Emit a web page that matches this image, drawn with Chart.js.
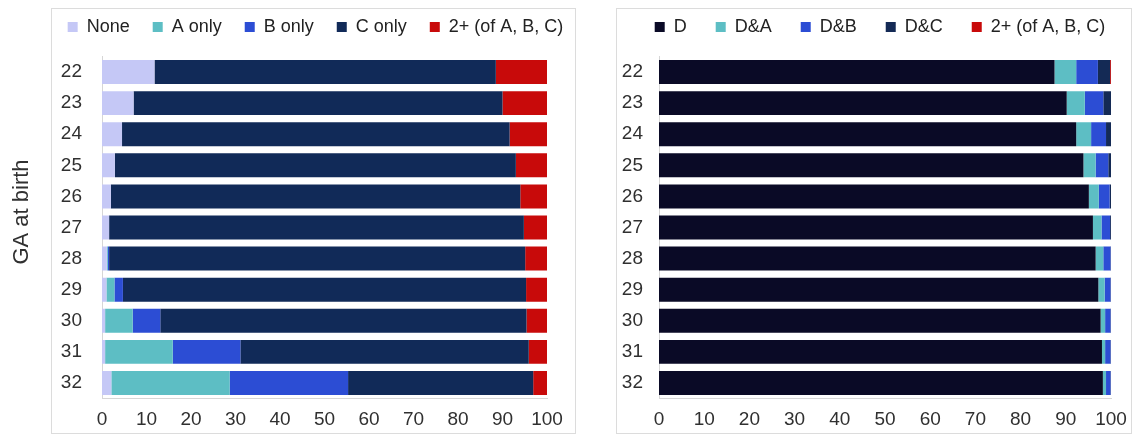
<!DOCTYPE html>
<html>
<head>
<meta charset="utf-8">
<script src="https://cdn.jsdelivr.net/npm/chart.js@4"></script>
<style>
  html, body { margin: 0; padding: 0; background: #fff; }
  #wrap { position: relative; width: 1137px; height: 436px; overflow: hidden; }
  .panel { position: absolute; border: 1px solid #dcdcdc; box-sizing: border-box; }
  canvas { position: absolute; top: 0; }
</style>
</head>
<body>
<div id="wrap">
  <div class="panel" style="left:51px;top:8px;width:525px;height:426px"></div>
  <div class="panel" style="left:616px;top:8px;width:516px;height:426px"></div>
  <canvas id="leftChart" width="580" height="436" style="left:0;width:580px;height:436px"></canvas>
  <canvas id="rightChart" width="557" height="436" style="left:580px;width:557px;height:436px"></canvas>
</div>
<script>
// Gestational age at birth (weeks)
const gaWeeks = ['22', '23', '24', '25', '26', '27', '28', '29', '30', '31', '32'];
const axisTitle = 'GA at birth';
const xTicks = [0, 10, 20, 30, 40, 50, 60, 70, 80, 90, 100];

// Left panel: percentage by exposure group
const leftLabels = ['None', 'A only', 'B only', 'C only', '2+ (of A, B, C)'];
const noneShare  = [11.8, 7.1, 4.5, 2.9, 2.0, 1.6, 1.1, 1.0, 0.7, 0.7, 2.1];
const aOnlyShare = [0, 0, 0, 0, 0, 0, 0.2, 1.8, 6.2, 15.2, 26.6];
const bOnlyShare = [0, 0, 0, 0, 0, 0, 0.3, 1.9, 6.2, 15.2, 26.6];
const cOnlyShare = [76.7, 82.9, 87.1, 90.1, 92.0, 93.2, 93.5, 90.6, 82.3, 64.8, 41.6];
const multiShare = [11.5, 10.0, 8.4, 7.0, 6.0, 5.2, 4.9, 4.7, 4.6, 4.1, 3.1];

// Right panel: percentage by D combination
const rightLabels = ['D', 'D&A', 'D&B', 'D&C', '2+ (of A, B, C)'];
const dShare      = [87.5, 90.2, 92.3, 93.9, 95.1, 96.0, 96.6, 97.2, 97.7, 98.0, 98.2];
const dAShare     = [4.8, 4.0, 3.3, 2.7, 2.2, 1.9, 1.7, 1.4, 1.0, 0.7, 0.7];
const dBShare     = [4.8, 4.1, 3.3, 2.8, 2.4, 1.9, 1.6, 1.3, 1.2, 1.2, 1.0];
const dCShare     = [2.7, 1.7, 1.1, 0.6, 0.3, 0.2, 0.1, 0.1, 0.1, 0.1, 0.1];
const dMultiShare = [0.2, 0, 0, 0, 0, 0, 0, 0, 0, 0, 0];

const leftColors  = ['#c5c8f6', '#5dbec4', '#2c4dd4', '#112a58', '#c80a0a'];
const rightColors = ['#0a0a26', '#5dbec4', '#2c4dd4', '#142a55', '#c80a0a'];

const FONT = '"Liberation Sans", Arial, Helvetica, sans-serif';
const TEXT = '#303030';

// Moves the legend block and adds room beneath it; also draws an optional rotated side title.
const panelDecor = {
  id: 'panelDecor',
  beforeInit(chart, args, opts) {
    const fit = chart.legend.fit;
    chart.legend.fit = function () {
      fit.call(this);
      this.height += opts.extraHeight || 0;
    };
  },
  afterLayout(chart, args, opts) {
    const lg = chart.legend;
    const dx = opts.dx || 0, dy = opts.dy || 0;
    lg.left += dx; lg.right += dx; lg.top += dy; lg.bottom += dy;
  },
  afterDraw(chart, args, opts) {
    if (!opts.sideTitle) return;
    const ctx = chart.ctx;
    ctx.save();
    ctx.translate(opts.sideTitle.x, opts.sideTitle.y);
    ctx.rotate(-Math.PI / 2);
    ctx.font = '22px ' + FONT;
    ctx.fillStyle = TEXT;
    ctx.textAlign = 'center';
    ctx.textBaseline = 'middle';
    ctx.fillText(opts.sideTitle.text, 0, 0);
    ctx.restore();
  }
};

function makeDatasets(labels, series, colors) {
  return labels.map((label, i) => ({
    label,
    data: series[i],
    backgroundColor: colors[i],
    borderColor: colors[i],
    borderWidth: 0,
    barPercentage: 0.77,
    categoryPercentage: 1.0
  }));
}

function makeOptions(cfg) {
  return {
    responsive: false,
    animation: false,
    indexAxis: 'y',
    layout: { padding: { left: 0, right: cfg.padRight, top: 0, bottom: 0 } },
    plugins: {
      tooltip: { enabled: false },
      legend: {
        position: 'top',
        labels: {
          boxWidth: 10,
          boxHeight: 10,
          padding: cfg.legendPad,
          color: '#222',
          font: { family: FONT, size: 18 }
        }
      },
      panelDecor: {
        dx: cfg.dx,
        dy: 27 - cfg.legendPad - 9,
        extraHeight: 56.5 - 28 - cfg.legendPad,
        sideTitle: cfg.sideTitle || null
      }
    },
    scales: {
      x: {
        stacked: true,
        min: 0,
        max: 100,
        afterBuildTicks(scale) { scale.ticks = xTicks.map(v => ({ value: v })); },
        ticks: { color: TEXT, font: { family: FONT, size: 19 }, padding: 10, autoSkip: false, maxRotation: 0 },
        grid: { display: false, drawTicks: false },
        border: { display: true, color: '#d6d6d6' },
        afterFit(scale) { scale.height = 37.5; }
      },
      y: {
        stacked: true,
        ticks: { color: TEXT, font: { family: FONT, size: 19 }, padding: cfg.yPad },
        grid: { display: false, drawTicks: false },
        border: { display: true, color: '#d6d6d6' },
        afterFit(scale) { scale.width = cfg.yWidth; }
      }
    }
  };
}

new Chart(document.getElementById('leftChart'), {
  type: 'bar',
  data: {
    labels: gaWeeks,
    datasets: makeDatasets(leftLabels, [noneShare, aOnlyShare, bOnlyShare, cOnlyShare, multiShare], leftColors)
  },
  options: makeOptions({
    padRight: 33, yWidth: 102, yPad: 20, legendPad: 23, dx: 42,
    sideTitle: { text: axisTitle, x: 22, y: 212 }
  }),
  plugins: [panelDecor]
});

new Chart(document.getElementById('rightChart'), {
  type: 'bar',
  data: {
    labels: gaWeeks,
    datasets: makeDatasets(rightLabels, [dShare, dAShare, dBShare, dCShare, dMultiShare], rightColors)
  },
  options: makeOptions({
    padRight: 26, yWidth: 79, yPad: 16, legendPad: 29, dx: 34.5
  }),
  plugins: [panelDecor]
});
</script>
</body>
</html>
